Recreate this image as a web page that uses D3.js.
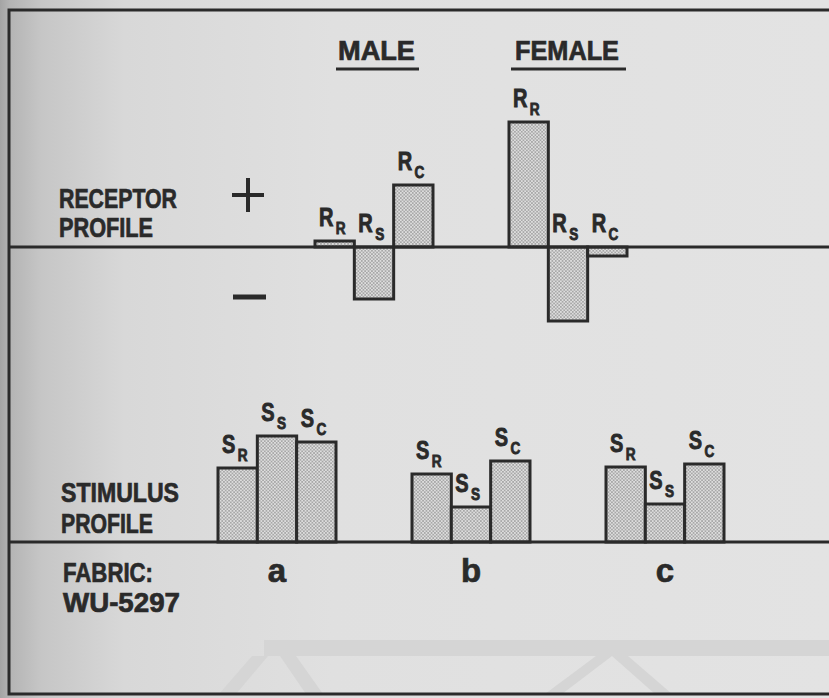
<!DOCTYPE html>
<html>
<head>
<meta charset="utf-8">
<script src="https://cdn.jsdelivr.net/npm/d3@7"></script>
<style>
body{margin:0;padding:0;background:#e2e2e2;overflow:hidden;}
svg{display:block;}
text{font-family:"Liberation Sans",Arial,sans-serif;font-weight:bold;fill:#2a2a2a;stroke:#2a2a2a;stroke-width:0.7px;}
</style>
</head>
<body>
<svg></svg>
<script>
// subscripts of the bars, same order in every group
var barKeys = ["R","S","C"];

// receptor profile (up is +, down is -)
var receptorGroups = ["MALE","FEMALE"];
var maleReceptor = [0.6,-5.2,6.2];
var femaleReceptor = [12.5,-7.4,-0.9];

// stimulus profile of the three fabrics
var fabrics = ["a","b","c"];
var stimA = [7.4,10.6,10.0];
var stimB = [6.8,3.5,8.1];
var stimC = [7.5,3.8,7.8];

var screen = {width:829,height:698};

var svg = d3.select("svg")
    .attr("width",screen.width)
    .attr("height",screen.height);

var defs = svg.append("defs");

//scanned paper, darker on the left
var grad = defs.append("linearGradient")
    .attr("id","paper")
    .attr("x1","0").attr("x2","1").attr("y1","0").attr("y2","0");
[[0,"#a4a4a4"],[0.012,"#b4b4b4"],[0.05,"#c6c6c6"],[0.15,"#d8d8d8"],
 [0.4,"#e0e0e0"],[1,"#e3e3e3"]].forEach(function(s)
{
    grad.append("stop").attr("offset",s[0]).attr("stop-color",s[1]);
});

//stipple fill of the bars
var pat = defs.append("pattern")
    .attr("id","dots")
    .attr("patternUnits","userSpaceOnUse")
    .attr("width",3.4)
    .attr("height",3.4);
pat.append("rect").attr("width",3.4).attr("height",3.4).attr("fill","#dedede");
pat.append("circle").attr("cx",0.85).attr("cy",0.85).attr("r",0.65).attr("fill","#555");
pat.append("circle").attr("cx",2.55).attr("cy",2.55).attr("r",0.65).attr("fill","#555");

svg.append("rect")
    .attr("width",screen.width)
    .attr("height",screen.height)
    .attr("fill","url(#paper)");

//faint show-through shapes at the bottom of the page
var ghost = svg.append("g").attr("fill","#d5d5d5");
ghost.append("rect").attr("x",264).attr("y",640).attr("width",565).attr("height",16);
ghost.append("polygon").attr("points","219,694 252,656 268,656 236,694");
ghost.append("polygon").attr("points","280,656 296,656 323,694 306,694");
ghost.append("polygon").attr("points","545,694 596,656 612,656 562,694");
ghost.append("polygon").attr("points","612,656 628,656 672,694 655,694");

// group index -> left edge of the group (receptor groups sit at half steps)
var groupX = d3.scaleLinear()
    .domain([0,2])
    .range([218,606]);

var innerX = d3.scaleBand()
    .domain(barKeys)
    .range([0,118]);

var recY = d3.scaleLinear()
    .domain([0,10])
    .range([247,147]);

var stimY = d3.scaleLinear()
    .domain([0,10])
    .range([542,442]);

var ink = "#2a2a2a";

//one group of three touching bars with their labels
var drawGroup = function(values,letter,pos,yScale)
{
    var rows = values.map(function(v,i)
    {
        return {key:barKeys[i],value:v};
    });

    var g = svg.append("g")
        .attr("transform","translate("+groupX(pos)+",0)");

    g.selectAll("rect")
        .data(rows)
        .enter()
        .append("rect")
        .attr("x",function(d){return innerX(d.key);})
        .attr("y",function(d){return Math.min(yScale(d.value),yScale(0));})
        .attr("width",innerX.bandwidth())
        .attr("height",function(d){return Math.abs(yScale(d.value)-yScale(0));})
        .attr("fill","url(#dots)")
        .attr("stroke",ink)
        .attr("stroke-width",3);

    //narrow lettering, like the printed figure
    var labels = g.selectAll("text")
        .data(rows)
        .enter()
        .append("text")
        .style("stroke-width","0.9px")
        .attr("transform",function(d)
        {
            var top = Math.min(yScale(d.value),yScale(0));
            return "translate("+(innerX(d.key)+4)+","+(top-15)+") scale(0.8,1)";
        });

    labels.append("tspan")
        .attr("font-size",25)
        .text(letter);
    labels.append("tspan")
        .attr("font-size",17)
        .attr("dx",3)
        .attr("dy",8)
        .text(function(d){return d.key;});
};

drawGroup(maleReceptor,"R",0.5,recY);
drawGroup(femaleReceptor,"R",1.5,recY);
drawGroup(stimA,"S",0,stimY);
drawGroup(stimB,"S",1,stimY);
drawGroup(stimC,"S",2,stimY);

//frame and the two base lines
var lines = svg.append("g")
    .attr("stroke",ink)
    .attr("stroke-width",3)
    .attr("fill","none");
lines.append("path").attr("d","M829,10 H9 V694 H829");
lines.append("line").attr("x1",9).attr("x2",829).attr("y1",recY(0)).attr("y2",recY(0));
lines.append("line").attr("x1",9).attr("x2",829).attr("y1",stimY(0)).attr("y2",stimY(0));

// + and - signs of the receptor axis
lines.append("path").attr("d","M232,195 H264 M248,178 V212").attr("stroke-width",4);
lines.append("path").attr("d","M233,297 H266").attr("stroke-width",5);

//group headings
var heads = svg.append("g");
heads.selectAll("text")
    .data(receptorGroups)
    .enter()
    .append("text")
    .attr("x",function(d,i){return groupX(i+0.5)+(i==0?23:6);})
    .attr("y",60)
    .attr("font-size",27)
    .attr("textLength",function(d,i){return i==0?77:104;})
    .attr("lengthAdjust","spacingAndGlyphs")
    .text(function(d){return d;});
heads.selectAll("line")
    .data(receptorGroups)
    .enter()
    .append("line")
    .attr("x1",function(d,i){return groupX(i+0.5)+(i==0?21:2);})
    .attr("x2",function(d,i){return groupX(i+0.5)+(i==0?104:117);})
    .attr("y1",69).attr("y2",69)
    .attr("stroke",ink)
    .attr("stroke-width",3);

//fabric letters under the stimulus groups
svg.append("g")
    .selectAll("text")
    .data(fabrics)
    .enter()
    .append("text")
    .attr("x",function(d,i){return groupX(i)+innerX.bandwidth()*1.5;})
    .attr("y",582)
    .attr("font-size",33)
    .attr("text-anchor","middle")
    .text(function(d){return d;});

//row labels on the left
var sideLabels = [
    {t:"RECEPTOR",x:59,y:208,w:118},
    {t:"PROFILE",x:59,y:237,w:94},
    {t:"STIMULUS",x:61,y:502,w:118},
    {t:"PROFILE",x:61,y:533,w:92},
    {t:"FABRIC:",x:63,y:582,w:90},
    {t:"WU-5297",x:63,y:612,w:117}
];
svg.append("g")
    .selectAll("text")
    .data(sideLabels)
    .enter()
    .append("text")
    .attr("x",function(d){return d.x;})
    .attr("y",function(d){return d.y;})
    .attr("font-size",27)
    .attr("textLength",function(d){return d.w;})
    .attr("lengthAdjust","spacingAndGlyphs")
    .text(function(d){return d.t;});
</script>
</body>
</html>
